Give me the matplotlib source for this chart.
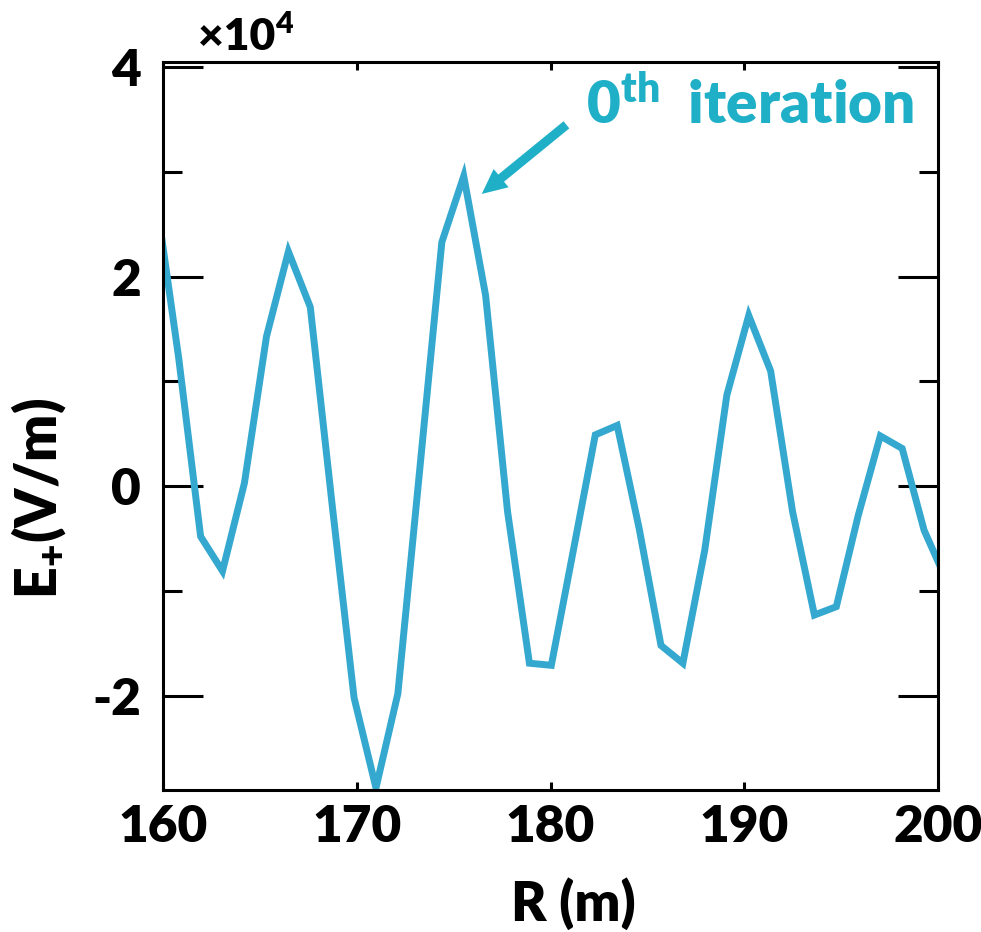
import numpy as np
import matplotlib
matplotlib.use('Agg')
import matplotlib.pyplot as plt
from matplotlib.ticker import MultipleLocator, FuncFormatter

plt.rcParams['font.family'] = ['Lato', 'DejaVu Sans']
plt.rcParams['font.weight'] = 'heavy'
plt.rcParams['mathtext.fontset'] = 'custom'
plt.rcParams['mathtext.rm'] = 'Lato:heavy'
plt.rcParams['mathtext.bf'] = 'Lato:heavy'
plt.rcParams['mathtext.it'] = 'Lato:heavy'

# radial grid (m) and field E+ for the 0th iteration (units of 1e4 V/m)
r = [159.68, 160.81, 161.94, 163.07, 164.20, 165.34, 166.47, 167.60, 168.73,
     169.86, 170.99, 172.12, 173.26, 174.39, 175.52, 176.65, 177.78, 178.91,
     180.04, 181.18, 182.31, 183.44, 184.57, 185.70, 186.83, 187.96, 189.10,
     190.23, 191.36, 192.49, 193.62, 194.75, 195.88, 197.02, 198.15, 199.28,
     200.41]
e_plus = [2.70, 1.22, -0.48, -0.81, 0.03, 1.43, 2.24, 1.71, -0.18,
          -2.02, -2.88, -1.98, 0.18, 2.33, 2.96, 1.82, -0.24, -1.69,
          -1.71, -0.61, 0.49, 0.58, -0.40, -1.52, -1.69, -0.61, 0.87,
          1.63, 1.10, -0.24, -1.23, -1.15, -0.28, 0.48, 0.36, -0.42,
          -0.89]
e_plus = np.array(e_plus) * 1e4

line_col = '#34a8cf'
note_col = '#1fb0c8'

fig = plt.figure(figsize=(9.81, 9.32), dpi=100)
ax = fig.add_axes([0.1662, 0.1524, 0.790, 0.7811])

ax.plot(r, e_plus, color=line_col, lw=5, solid_joinstyle='miter')
ax.set_xlim(160, 200)
ax.set_ylim(-2.9e4, 4.05e4)

ax.xaxis.set_major_locator(MultipleLocator(10))
ax.yaxis.set_major_locator(MultipleLocator(2e4))
ax.yaxis.set_minor_locator(MultipleLocator(1e4))
ax.yaxis.set_major_formatter(FuncFormatter(lambda v, p: f'{v/1e4:g}'))

for s in ax.spines.values():
    s.set_linewidth(2.2)
ax.tick_params(axis='x', which='major', direction='in', top=True, length=6,
               width=2.2, labelsize=37, pad=10)
ax.tick_params(axis='y', which='major', direction='in', right=True, length=29,
               width=2.2, labelsize=37, pad=16)
ax.tick_params(axis='y', which='minor', direction='in', right=True, length=14,
               width=2.2)

ax.set_xlabel('R (m)', fontsize=39, fontweight='heavy')
ax.xaxis.set_label_coords(0.53, -0.12)
ax.set_ylabel(r'$\mathregular{E_{+}}$(V/m)', fontsize=40, fontweight='heavy')
ax.yaxis.set_label_coords(-0.122, 0.40)

# scale factor above the y axis
fig.text(0.202, 0.960, '×10', fontsize=32, fontweight='heavy', va='center')
fig.text(0.280, 0.974, '4', fontsize=22, fontweight='heavy', va='center')

ax.annotate('', xy=(176.45, 2.79e4), xytext=(180.82, 3.45e4),
            arrowprops=dict(arrowstyle='simple,head_length=0.9,head_width=0.85,tail_width=0.33',
                            mutation_scale=20, color=note_col, shrinkA=0, shrinkB=0, lw=0))
ax.text(181.85, 3.65e4, r'0$^{\mathregular{th}}$  iteration', color=note_col,
        fontsize=42, fontweight='heavy', va='center', ha='left')

fig.savefig('out.png', dpi=100)
